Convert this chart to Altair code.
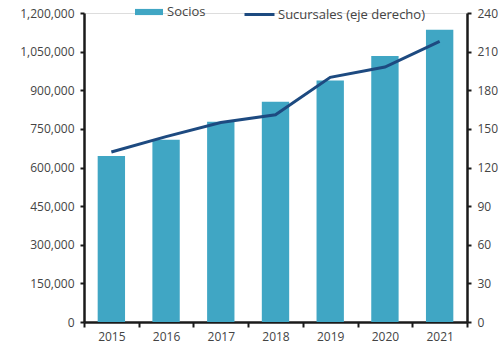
import altair as alt
import pandas as pd

years = ["2015", "2016", "2017", "2018", "2019", "2020", "2021"]
socios = [645000, 708000, 778000, 855000, 938000, 1033000, 1135000]
sucursales = [132, 144, 155, 161, 190, 198, 218]

df = pd.DataFrame({
    "year": years,
    "socios": socios,
    "sucursales": sucursales,
    "s1": ["Socios"] * len(years),
    "s2": ["Sucursales (eje derecho)"] * len(years),
})

FONT = "Open Sans"
TXT = "#444444"
BAR = "#40A6C4"
LINE = "#1D4A80"
AX = "#1a1a1a"

xenc = alt.X("year:N", title=None,
             scale=alt.Scale(paddingInner=0, paddingOuter=0),
             axis=alt.Axis(labelAngle=0, tickBand="extent", domainColor=AX,
                           domainWidth=2.5, tickColor=AX, tickWidth=2, tickSize=5,
                           labelPadding=4, labelFontSize=12, labelColor=TXT, labelFont=FONT))

bars = alt.Chart(df).mark_bar(color=BAR, width={"band": 0.5}).encode(
    x=xenc,
    y=alt.Y("socios:Q", title=None,
            scale=alt.Scale(domain=[0, 1200000]),
            axis=alt.Axis(values=[0, 150000, 300000, 450000, 600000, 750000, 900000, 1050000, 1200000],
                          format=",d", grid=False, domainColor=AX, domainWidth=2.5,
                          tickColor=AX, tickWidth=2, tickSize=4, labelPadding=6,
                          labelFontSize=12, labelColor=TXT, labelFont=FONT)),
    fill=alt.Fill("s1:N", title=None,
                  scale=alt.Scale(domain=["Socios"], range=[BAR]),
                  legend=alt.Legend(orient="none", legendX=51, legendY=-15,
                                    symbolType="M-1,-0.22H1V0.22H-1Z", symbolSize=784,
                                    symbolStrokeWidth=0, labelFontSize=13, labelColor=TXT,
                                    labelFont=FONT, labelOffset=4, padding=0)),
)

line = alt.Chart(df).mark_line(strokeWidth=3).encode(
    x=alt.X("year:N"),
    y=alt.Y("sucursales:Q", title=None,
            scale=alt.Scale(domain=[0, 240]),
            axis=alt.Axis(orient="right", values=[0, 30, 60, 90, 120, 150, 180, 210, 240],
                          grid=False, domainColor=AX, domainWidth=2.5,
                          tickColor=AX, tickWidth=2, tickSize=4, labelPadding=6,
                          labelFontSize=12, labelColor=TXT, labelFont=FONT)),
    stroke=alt.Stroke("s2:N", title=None,
                      scale=alt.Scale(domain=["Sucursales (eje derecho)"], range=[LINE]),
                      legend=alt.Legend(orient="none", legendX=159, legendY=-15,
                                        symbolType="stroke", symbolSize=900,
                                        symbolStrokeWidth=3, labelFontSize=13, labelColor=TXT,
                                        labelFont=FONT, labelOffset=2, padding=0)),
)

chart = alt.layer(bars, line).resolve_scale(y="independent").properties(
    width=383, height=309,
    autosize=alt.AutoSizeParams(type="none"),
    padding={"left": 84, "top": 13, "right": 37, "bottom": 24},
).configure_view(stroke=None).configure(background="white")

chart.save("out.html", embed_options={"renderer": "svg", "actions": False})
